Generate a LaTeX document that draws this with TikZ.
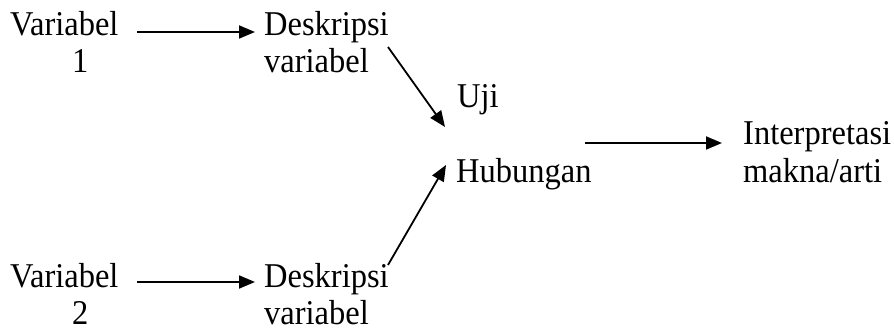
\documentclass[tikz,border=0pt]{standalone}
\usepackage{fontspec}
\usepackage{graphicx}
\setmainfont{Liberation Serif}
\usetikzlibrary{arrows.meta}
% slightly tall lettering
\newcommand{\tallword}[1]{\scalebox{1}[1.07]{#1}}
\begin{document}
\begin{tikzpicture}[x=1pt,y=-1pt,
  txt/.style={anchor=base west,inner sep=0pt,font=\fontsize{32.5}{38}\selectfont},
  arr/.style={draw,line width=1.8pt,-{Triangle[length=16pt,width=13pt]}}]
\useasboundingbox (0,0) rectangle (894,331);
% labels
\node[txt] (v1)  at (10,36)  {\tallword{Variabel}};
\node[txt] (v1n) at (72,73)  {\tallword{1}};
\node[txt] (d1)  at (264,36) {\tallword{Deskripsi}};
\node[txt] (d1b) at (264,73) {\tallword{variabel}};
\node[txt] (uji) at (457,108) {\tallword{Uji}};
\node[txt] (hub) at (456,183) {\tallword{Hubungan}};
\node[txt] (int) at (743,145) {\tallword{Interpretasi}};
\node[txt] (mak) at (743,183) {\tallword{makna/arti}};
\node[txt] (v2)  at (10,287) {\tallword{Variabel}};
\node[txt] (v2n) at (72,324) {\tallword{2}};
\node[txt] (d2)  at (264,287) {\tallword{Deskripsi}};
\node[txt] (d2b) at (264,324) {\tallword{variabel}};
% connectors
\draw[arr] ([xshift=127pt,yshift=4pt]v1.base west) -- ([xshift=-9pt,yshift=4pt]d1.base west);
\draw[arr] ([xshift=127pt,yshift=5pt]v2.base west) -- ([xshift=-9pt,yshift=5pt]d2.base west);
\draw[arr] ([xshift=124pt,yshift=-11pt]d1.base west) -- ([xshift=-11pt,yshift=56pt]hub.base west);
\draw[arr] ([xshift=124pt,yshift=22pt]d2.base west) -- ([xshift=-10pt,yshift=18pt]hub.base west);
\draw[arr] ([xshift=129pt,yshift=40pt]hub.base west) -- ([xshift=-21pt,yshift=2pt]int.base west);
\end{tikzpicture}
\end{document}
